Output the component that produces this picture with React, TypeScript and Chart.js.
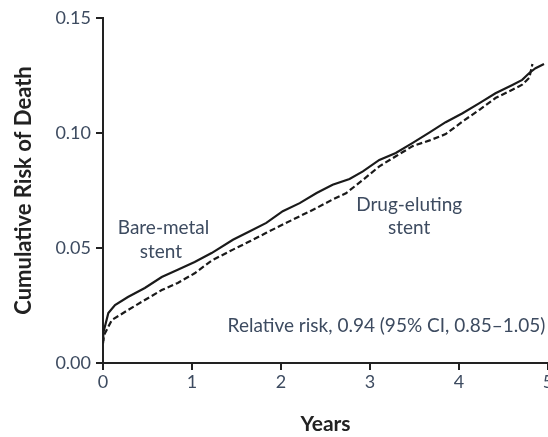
import React, { useEffect, useRef } from "react";
import { Chart, registerables } from "chart.js";

Chart.register(...registerables);

const bareYears = [0, 0.003, 0.06, 0.135, 0.28, 0.47, 0.66, 0.84, 1.03, 1.22, 1.46, 1.65, 1.835, 2.02, 2.21, 2.4, 2.58, 2.77, 2.92, 3.105, 3.29, 3.48, 3.67, 3.85, 4.04, 4.23, 4.41, 4.6, 4.71, 4.79, 4.86, 4.955];
const bareRisk = [0.01, 0.013, 0.0217, 0.0252, 0.0287, 0.0326, 0.0374, 0.0405, 0.0439, 0.0478, 0.0536, 0.0573, 0.0609, 0.066, 0.0695, 0.0739, 0.0775, 0.08, 0.0833, 0.0883, 0.0913, 0.0957, 0.1003, 0.1047, 0.1086, 0.113, 0.1173, 0.1209, 0.1231, 0.1261, 0.1282, 0.13];

const drugYears = [0, 0.01, 0.1, 0.28, 0.47, 0.66, 0.84, 1.03, 1.22, 1.46, 1.65, 1.835, 2.02, 2.21, 2.4, 2.58, 2.73, 2.92, 3.105, 3.29, 3.48, 3.67, 3.85, 4.04, 4.23, 4.41, 4.6, 4.71, 4.79, 4.825];
const drugRisk = [0.0085, 0.012, 0.0187, 0.023, 0.0274, 0.0317, 0.0348, 0.039, 0.0445, 0.0493, 0.0529, 0.0566, 0.0602, 0.0638, 0.0674, 0.0711, 0.0738, 0.0796, 0.0855, 0.0899, 0.0943, 0.0968, 0.0995, 0.105, 0.1101, 0.1152, 0.1188, 0.121, 0.124, 0.13];

const xTicks = [0, 1, 2, 3, 4, 5];
const yTicks = [0, 0.05, 0.1, 0.15];

const labels = [
  { text: "Bare-metal", x: 0.68, y: 0.0587, align: "center" },
  { text: "stent", x: 0.65, y: 0.0483, align: "center" },
  { text: "Drug-eluting", x: 3.44, y: 0.0687, align: "center" },
  { text: "stent", x: 3.44, y: 0.0587, align: "center" },
  { text: "Relative risk, 0.94 (95% CI, 0.85\u20131.05)", x: 1.4, y: 0.0161, align: "left" },
];

const FONT = "Lato, 'Open Sans', sans-serif";
const TEXT_COLOR = "#3d4b60";

const textPlugin = {
  id: "annotText",
  afterDatasetsDraw(chart: any) {
    const { ctx, scales } = chart;
    ctx.save();
    ctx.font = `19px ${FONT}`;
    ctx.fillStyle = TEXT_COLOR;
    ctx.textBaseline = "middle";
    for (const l of labels) {
      ctx.textAlign = l.align;
      ctx.fillText(l.text, scales.x.getPixelForValue(l.x), scales.y.getPixelForValue(l.y));
    }
    ctx.restore();
  },
};

export default function App() {
  const ref = useRef<HTMLCanvasElement | null>(null);
  useEffect(() => {
    if (!ref.current) return;
    const chart = new Chart(ref.current, {
      type: "line",
      data: {
        datasets: [
          {
            label: "Bare-metal stent",
            data: bareYears.map((x, i) => ({ x, y: bareRisk[i] })),
            borderColor: "#1a1a1a",
            borderWidth: 2.2,
            pointRadius: 0,
            tension: 0,
          },
          {
            label: "Drug-eluting stent",
            data: drugYears.map((x, i) => ({ x, y: drugRisk[i] })),
            borderColor: "#1a1a1a",
            borderWidth: 2.2,
            borderDash: [6, 3],
            pointRadius: 0,
            tension: 0,
          },
        ],
      },
      options: {
        animation: false,
        responsive: false,
        maintainAspectRatio: false,
        layout: { padding: { top: 18, right: 22, left: 0, bottom: 0 } },
        plugins: { legend: { display: false }, tooltip: { enabled: false } },
        scales: {
          x: {
            type: "linear",
            min: 0,
            max: 5,
            afterBuildTicks: (s: any) => {
              s.ticks = xTicks.map((v) => ({ value: v }));
            },
            afterFit: (s: any) => {
              s.height = 74;
            },
            grid: { drawOnChartArea: false, drawTicks: true, tickLength: 7, color: "#222", lineWidth: 2 },
            border: { display: true, color: "#222", width: 2 },
            ticks: { color: TEXT_COLOR, font: { family: FONT, size: 18 }, padding: 1, callback: (v: any) => String(v) },
            title: { display: true, text: "Years", color: "#222", font: { family: FONT, size: 21, weight: "bold" }, padding: { top: 0, bottom: 0 } },
          },
          y: {
            type: "linear",
            min: 0,
            max: 0.15,
            afterBuildTicks: (s: any) => {
              s.ticks = yTicks.map((v) => ({ value: v }));
            },
            afterFit: (s: any) => {
              s.width = 103;
            },
            grid: { drawOnChartArea: false, drawTicks: true, tickLength: 7, color: "#222", lineWidth: 2 },
            border: { display: true, color: "#222", width: 2 },
            ticks: { color: TEXT_COLOR, font: { family: FONT, size: 18 }, padding: 5, callback: (v: any) => Number(v).toFixed(2) },
            title: { display: true, text: "Cumulative Risk of Death", color: "#222", font: { family: FONT, size: 22, weight: "bold" }, padding: { top: 11, bottom: 0 } },
          },
        },
      },
      plugins: [textPlugin],
    });
    return () => chart.destroy();
  }, []);
  return (
    <div style={{ position: "fixed", left: 0, top: 0, width: 548, height: 437, overflow: "hidden", background: "#fff" }}>
      <canvas ref={ref} width={570} height={437} style={{ display: "block", width: 570, height: 437 }} />
    </div>
  );
}
